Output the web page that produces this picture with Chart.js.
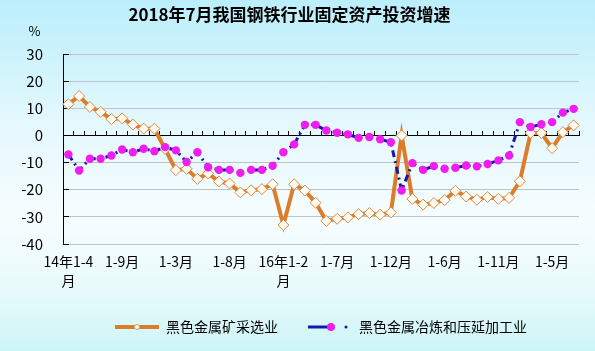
<!DOCTYPE html>
<html>
<head>
<meta charset="utf-8">
<script src="https://cdn.jsdelivr.net/npm/chart.js@4"></script>
<style>
  html, body { margin: 0; padding: 0; }
  body {
    width: 595px; height: 351px; overflow: hidden;
    background: linear-gradient(to bottom, #bbeefb 0%, #e4f8fd 35%, #f6fdff 62%, #ebfbfc 80%, #cdf5f7 100%);
  }
  #wrap { position: relative; width: 595px; height: 351px; }
</style>
</head>
<body>
<div id="wrap"><canvas id="myChart"></canvas></div>
<script>
// 类别（月份累计）
const categories = [
  '14年1-4月', '1-5月', '1-6月', '1-7月', '1-8月', '1-9月', '1-10月', '1-11月', '1-12月',
  '15年1-2月', '1-3月', '1-4月', '1-5月', '1-6月', '1-7月', '1-8月', '1-9月', '1-10月', '1-11月', '1-12月',
  '16年1-2月', '1-3月', '1-4月', '1-5月', '1-6月', '1-7月', '1-8月', '1-9月', '1-10月', '1-11月', '1-12月',
  '17年1-2月', '1-3月', '1-4月', '1-5月', '1-6月', '1-7月', '1-8月', '1-9月', '1-10月', '1-11月', '1-12月',
  '18年1-2月', '1-3月', '1-4月', '1-5月', '1-6月', '1-7月'
];

// 黑色金属矿采选业 (%)
const miningValues = [
  11.5, 14.5, 10.5, 8.7, 6, 6.3, 4, 2.5, 2.5,
  -5, -12.8, -12.3, -16, -14, -17, -17.7, -21, -20.2, -19.8, -18,
  -33, -18, -20.3, -24.8, -31.5, -30.7, -30.2, -29, -28.6, -29.2, -28.4,
  0, -23.4, -25.5, -24.9, -23.8, -20.4, -22.5, -23.7, -22.7, -23.4, -23,
  -16.9, 0.9, 0.9, -4.7, 1.2, 3.7
];

// 黑色金属冶炼和压延加工业 (%)
const smeltingValues = [
  -7, -12.9, -8.6, -8.6, -7.4, -5.2, -6.2, -4.9, -5.8,
  -4.3, -5.5, -9.8, -6.2, -11.7, -12.7, -12.7, -13.8, -12.7, -12.7, -11.2,
  -6.2, -3.3, 3.9, 3.9, 1.8, 1, 0.4, -0.9, -0.6, -1.4, -2.5,
  -20.3, -10.2, -12.7, -11.3, -12.3, -11.9, -11.1, -11.4, -10.5, -9.2, -7.4,
  4.9, 3.1, 4.1, 4.9, 8.4, 9.8
];

// 纵轴刻度
const yMin = -40;
const yMax = 30;
const yStep = 10;

const seriesNames = ['黑色金属矿采选业', '黑色金属冶炼和压延加工业'];

const ORANGE = '#dc7d2a';
const BLUE = '#1616aa';
const MAGENTA = '#f01cf0';
const FONT = '"Noto Sans CJK SC", "Noto Sans", sans-serif';

// 图例符号
function legendSymbol(kind) {
    const c = document.createElement('canvas');
    c.width = 44; c.height = 12;
    const g = c.getContext('2d');
    if (kind === 0) {
        g.strokeStyle = ORANGE; g.lineWidth = 4;
        g.beginPath(); g.moveTo(0, 6); g.lineTo(44, 6); g.stroke();
        g.fillStyle = '#fff'; g.strokeStyle = '#e0a060'; g.lineWidth = 1;
        g.beginPath(); g.arc(22, 6, 2.5, 0, Math.PI * 2); g.fill(); g.stroke();
    } else {
        g.strokeStyle = BLUE; g.lineWidth = 3;
        g.beginPath(); g.moveTo(0, 6); g.lineTo(24, 6); g.stroke();
        g.fillStyle = MAGENTA;
        g.beginPath(); g.arc(23, 6, 4, 0, Math.PI * 2); g.fill();
        g.fillStyle = BLUE;
        g.beginPath(); g.arc(38, 6, 1.5, 0, Math.PI * 2); g.fill();
    }
    return c;
}
const symbols = [legendSymbol(0), legendSymbol(1)];

// 左上角的 "%"
const percentLabel = {
    id: 'percentLabel',
    afterDraw(chart) {
        const ctx = chart.ctx;
        ctx.save();
        ctx.font = '13px ' + FONT;
        ctx.fillStyle = '#000';
        ctx.textAlign = 'center';
        ctx.textBaseline = 'middle';
        ctx.fillText('%', chart.scales.y.right - 28.5, chart.chartArea.top - 23);
        ctx.restore();
    }
};

function veBieuDo() {
    const ctx = document.getElementById('myChart').getContext('2d');
    const myChart = new Chart(ctx, {
        type: 'line',
        data: {
            labels: categories,
            datasets: [{
                label: seriesNames[0],
                data: miningValues,
                borderColor: ORANGE,
                borderWidth: 4,
                tension: 0,
                fill: false,
                pointStyle: 'rectRot',
                pointRadius: 5.5,
                pointBackgroundColor: '#fffaf2',
                pointBorderColor: '#d98a40',
                pointBorderWidth: 1,
                order: 2
            }, {
                label: seriesNames[1],
                data: smeltingValues,
                borderColor: BLUE,
                borderWidth: 3,
                borderDash: [7, 4, 2, 4],
                tension: 0,
                fill: false,
                pointStyle: 'circle',
                pointRadius: 4.2,
                pointBackgroundColor: MAGENTA,
                pointBorderColor: MAGENTA,
                pointBorderWidth: 0,
                order: 1
            }]
        },
        options: {
            responsive: true,
            maintainAspectRatio: false,
            animation: false,
            layout: { padding: { left: 0, right: 16, top: 0, bottom: 7 } },
            scales: {
                x: {
                    type: 'category',
                    offset: true,
                    position: 'bottom',
                    grid: { display: false, drawTicks: false },
                    border: { display: false },
                    afterFit: function(scale) { scale.height = 46; },
                    ticks: {
                        autoSkip: false,
                        maxRotation: 0,
                        padding: 8,
                        color: '#000',
                        font: { family: FONT, size: 14, lineHeight: 1.36 },
                        callback: function(value, index) {
                            if (index % 5 !== 0) return null;
                            const s = this.getLabelForValue(value);
                            return s.indexOf('年') >= 0 ? [s.slice(0, -1), '月'] : s;
                        }
                    }
                },
                x0: {
                    type: 'category',
                    offset: true,
                    position: { y: 0 },
                    grid: {
                        offset: true,
                        drawOnChartArea: false,
                        drawTicks: true,
                        tickLength: -5,
                        tickColor: '#000',
                        tickWidth: 1
                    },
                    border: { display: true, color: '#000', width: 1 },
                    ticks: { display: false, autoSkip: false }
                },
                y: {
                    min: yMin,
                    max: yMax,
                    afterFit: function(scale) { scale.width = 63; },
                    grid: {
                        color: '#bcc3cc',
                        lineWidth: 1,
                        tickLength: -6,
                        tickColor: '#000'
                    },
                    border: { display: true, color: '#000', width: 1 },
                    ticks: {
                        stepSize: yStep,
                        padding: 26,
                        color: '#000',
                        font: { family: FONT, size: 15 }
                    }
                }
            },
            plugins: {
                title: {
                    display: true,
                    text: '2018年7月我国钢铁行业固定资产投资增速',
                    color: '#000',
                    font: { family: FONT, size: 17, weight: 'bold' },
                    padding: { top: 4, bottom: 29.6 }
                },
                tooltip: { enabled: false },
                legend: {
                    position: 'bottom',
                    fullSize: false,
                    labels: {
                        usePointStyle: true,
                        pointStyleWidth: 44,
                        padding: 30,
                        color: '#000',
                        font: { family: FONT, size: 14 },
                        sort: function(a, b) { return a.datasetIndex - b.datasetIndex; },
                        generateLabels: function(chart) {
                            const items = Chart.defaults.plugins.legend.labels.generateLabels(chart);
                            items.forEach(function(it) { it.pointStyle = symbols[it.datasetIndex]; });
                            return items;
                        }
                    }
                }
            }
        },
        plugins: [percentLabel]
    });
}

veBieuDo();
</script>
</body>
</html>
